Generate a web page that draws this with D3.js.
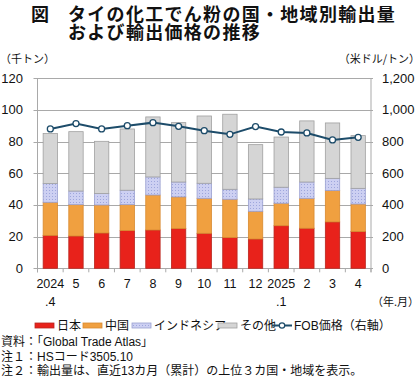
<!DOCTYPE html>
<html><head><meta charset="utf-8">
<script src="https://cdn.jsdelivr.net/npm/d3@7"></script>
<style>
body{margin:0;background:#fff;}
svg{display:block;font-family:"Liberation Sans","Noto Sans CJK JP",sans-serif;}
.jp{font-family:"Noto Sans CJK JP",sans-serif;}
</style></head><body>
<svg id="c" width="420" height="378"></svg>
<script>
const categories = ["2024.4","5","6","7","8","9","10","11","12","2025.1","2","3","4"];
const labelTop = ["2024","5","6","7","8","9","10","11","12","2025","2","3","4"];
const labelBottom = [".4","","","","","","","","",".1","","",""];
const japan     = [20.8,20.4,22.3,23.8,24.2,25.1,22.1,19.4,18.5,26.9,25.3,29.3,23.2];
const china     = [20.9,19.8,17.7,16.4,22.1,20.0,22.1,24.2,17.5,14.2,18.9,19.8,17.4];
const indonesia = [11.8,8.6,7.2,9.1,11.4,9.4,9.5,6.3,7.8,10.1,10.3,7.7,9.9];
const others    = [31.6,37.5,33.0,38.7,37.9,37.5,42.5,47.4,34.3,31.7,38.6,35.0,33.3];
const fob       = [880,914,880,901,920,897,869,846,895,861,855,811,827];
const leftTicks = [0,20,40,60,80,100,120];
const rightTicks = [0,200,400,600,800,1000,1200];
const seriesNames = ["日本","中国","インドネシア","その他"];

const svg = d3.select("#c");
const X0 = 37.5, X1 = 371, YT = 78.3, YB = 268.3;
const x = d3.scaleBand().domain(categories).range([X0, X1]).paddingInner(0.44).paddingOuter(0.22);
const y = d3.scaleLinear().domain([0,120]).range([YB, YT]);
const y2 = d3.scaleLinear().domain([0,1200]).range([YB, YT]);

const defs = svg.append("defs");
const pat = defs.append("pattern").attr("id","dots").attr("patternUnits","userSpaceOnUse")
  .attr("width",3).attr("height",3);
pat.append("rect").attr("width",3).attr("height",3).attr("fill","#cdd0f2");
pat.append("rect").attr("x",1).attr("y",1).attr("width",1).attr("height",1).attr("fill","#9ea6dc");

const gridColor = "#a9a9a9";
svg.append("g").selectAll("line").data(leftTicks).join("line")
  .attr("x1", X0-4).attr("x2", X1+2).attr("y1", d=>Math.round(y(d))+0.5).attr("y2", d=>Math.round(y(d))+0.5)
  .attr("stroke", gridColor).attr("stroke-width",1);
svg.append("line").attr("x1",X0).attr("x2",X0).attr("y1",YT).attr("y2",YB+4).attr("stroke",gridColor);
svg.append("line").attr("x1",X1).attr("x2",X1).attr("y1",YT).attr("y2",YB+4).attr("stroke",gridColor);
const step = x.step();
const bounds = d3.range(categories.length+1).map(i => X0 + i*step);
svg.append("g").selectAll("line").data(bounds).join("line")
  .attr("x1", d=>d).attr("x2", d=>d).attr("y1", YB).attr("y2", YB+4).attr("stroke", gridColor);

const rows = categories.map((c,i)=>({cat:c, "日本":japan[i], "中国":china[i], "インドネシア":indonesia[i], "その他":others[i]}));
const stack = d3.stack().keys(seriesNames)(rows);
const fills = {"日本":"#e8221b","中国":"#f0a040","インドネシア":"url(#dots)","その他":"#d5d5d5"};
const strokes = {"日本":"#b8261f","中国":"#d88a30","インドネシア":"#9aa0d0","その他":"#a0a0a0"};
stack.forEach(s=>{
  svg.append("g").selectAll("rect").data(s).join("rect")
    .attr("x", d=>x(d.data.cat)).attr("width", x.bandwidth())
    .attr("y", d=>y(d[1])).attr("height", d=>y(d[0])-y(d[1]))
    .attr("fill", fills[s.key]).attr("stroke", strokes[s.key]).attr("stroke-width",0.8);
});

const lineColor = "#1d4c6a";
const line = d3.line().x((d,i)=>x(categories[i])+x.bandwidth()/2).y(d=>y2(d));
svg.append("path").datum(fob).attr("d", line).attr("fill","none").attr("stroke",lineColor).attr("stroke-width",2);
svg.append("g").selectAll("circle").data(fob).join("circle")
  .attr("cx",(d,i)=>x(categories[i])+x.bandwidth()/2).attr("cy", d=>y2(d)).attr("r",3)
  .attr("fill","#fff").attr("stroke",lineColor).attr("stroke-width",1.3);

svg.append("g").selectAll("text").data(leftTicks).join("text")
  .attr("x", 23).attr("y", d=>y(d)+4.5).attr("text-anchor","end").attr("font-size",13).attr("fill","#111").text(d=>d);
svg.append("g").selectAll("text").data(rightTicks).join("text")
  .attr("x", 382).attr("y", d=>y2(d)+4.5).attr("text-anchor","start").attr("font-size",13).attr("fill","#111").text(d=>d3.format(",")(d));
svg.append("g").selectAll("text").data(labelTop).join("text")
  .attr("x",(d,i)=>x(categories[i])+x.bandwidth()/2).attr("y",288).attr("text-anchor","middle").attr("font-size",12.5).attr("fill","#111").text(d=>d);
svg.append("g").selectAll("text").data(labelBottom).join("text")
  .attr("x",(d,i)=>x(categories[i])+x.bandwidth()/2).attr("y",306).attr("text-anchor","middle").attr("font-size",12.5).attr("fill","#111").text(d=>d);

svg.append("text").attr("class","jp").attr("x",372).attr("y",306).attr("font-size",11).attr("fill","#111").text("（年.月）");
svg.append("text").attr("class","jp").attr("x",0).attr("y",63).attr("font-size",11).attr("fill","#111").text("（千トン）");
svg.append("text").attr("class","jp").attr("x",420).attr("y",63).attr("text-anchor","end").attr("font-size",11).attr("fill","#111").text("（米ドル/トン）");

// title
const tAttr = sel => sel.attr("class","jp").attr("font-size",18).attr("font-weight","bold").attr("fill","#111").attr("letter-spacing",1.3);
tAttr(svg.append("text").attr("x",31).attr("y",20.5).text("図"));
const title = tAttr(svg.append("text"));
title.append("tspan").attr("x",68).attr("y",20.5).text("タイの化工でん粉の国・地域別輸出量");
title.append("tspan").attr("x",68).attr("y",39).text("および輸出価格の推移");

// legend
const lg = svg.append("g");
const legendItems = [
  {name:"日本", x:35, type:"rect"},
  {name:"中国", x:83, type:"rect"},
  {name:"インドネシア", x:132, type:"rect"},
  {name:"その他", x:218, type:"rect"},
  {name:"FOB価格（右軸）", x:272, type:"line"}
];
legendItems.forEach(it=>{
  if(it.type==="rect"){
    lg.append("rect").attr("x",it.x).attr("y",323).attr("width",19).attr("height",5)
      .attr("fill",fills[it.name]).attr("stroke",strokes[it.name]).attr("stroke-width",0.8);
  } else {
    lg.append("line").attr("x1",it.x).attr("x2",it.x+20).attr("y1",325.5).attr("y2",325.5).attr("stroke",lineColor).attr("stroke-width",2);
    lg.append("circle").attr("cx",it.x+10).attr("cy",325.5).attr("r",2.7).attr("fill","#fff").attr("stroke",lineColor).attr("stroke-width",1.2);
  }
  lg.append("text").attr("x",it.x+22).attr("y",330).attr("font-size",12).attr("fill","#111")
    .attr("class", it.type==="rect" ? "jp" : null).text(it.name);
});

const notes = ["資料：「Global Trade Atlas」","注１：HSコード3505.10","注２：輸出量は、直近13カ月（累計）の上位３カ国・地域を表示。"];
svg.append("g").selectAll("text").data(notes).join("text")
  .attr("x",1).attr("y",(d,i)=>346+i*14.6).attr("font-size",12).attr("fill","#111").text(d=>d);
</script>
</body></html>
